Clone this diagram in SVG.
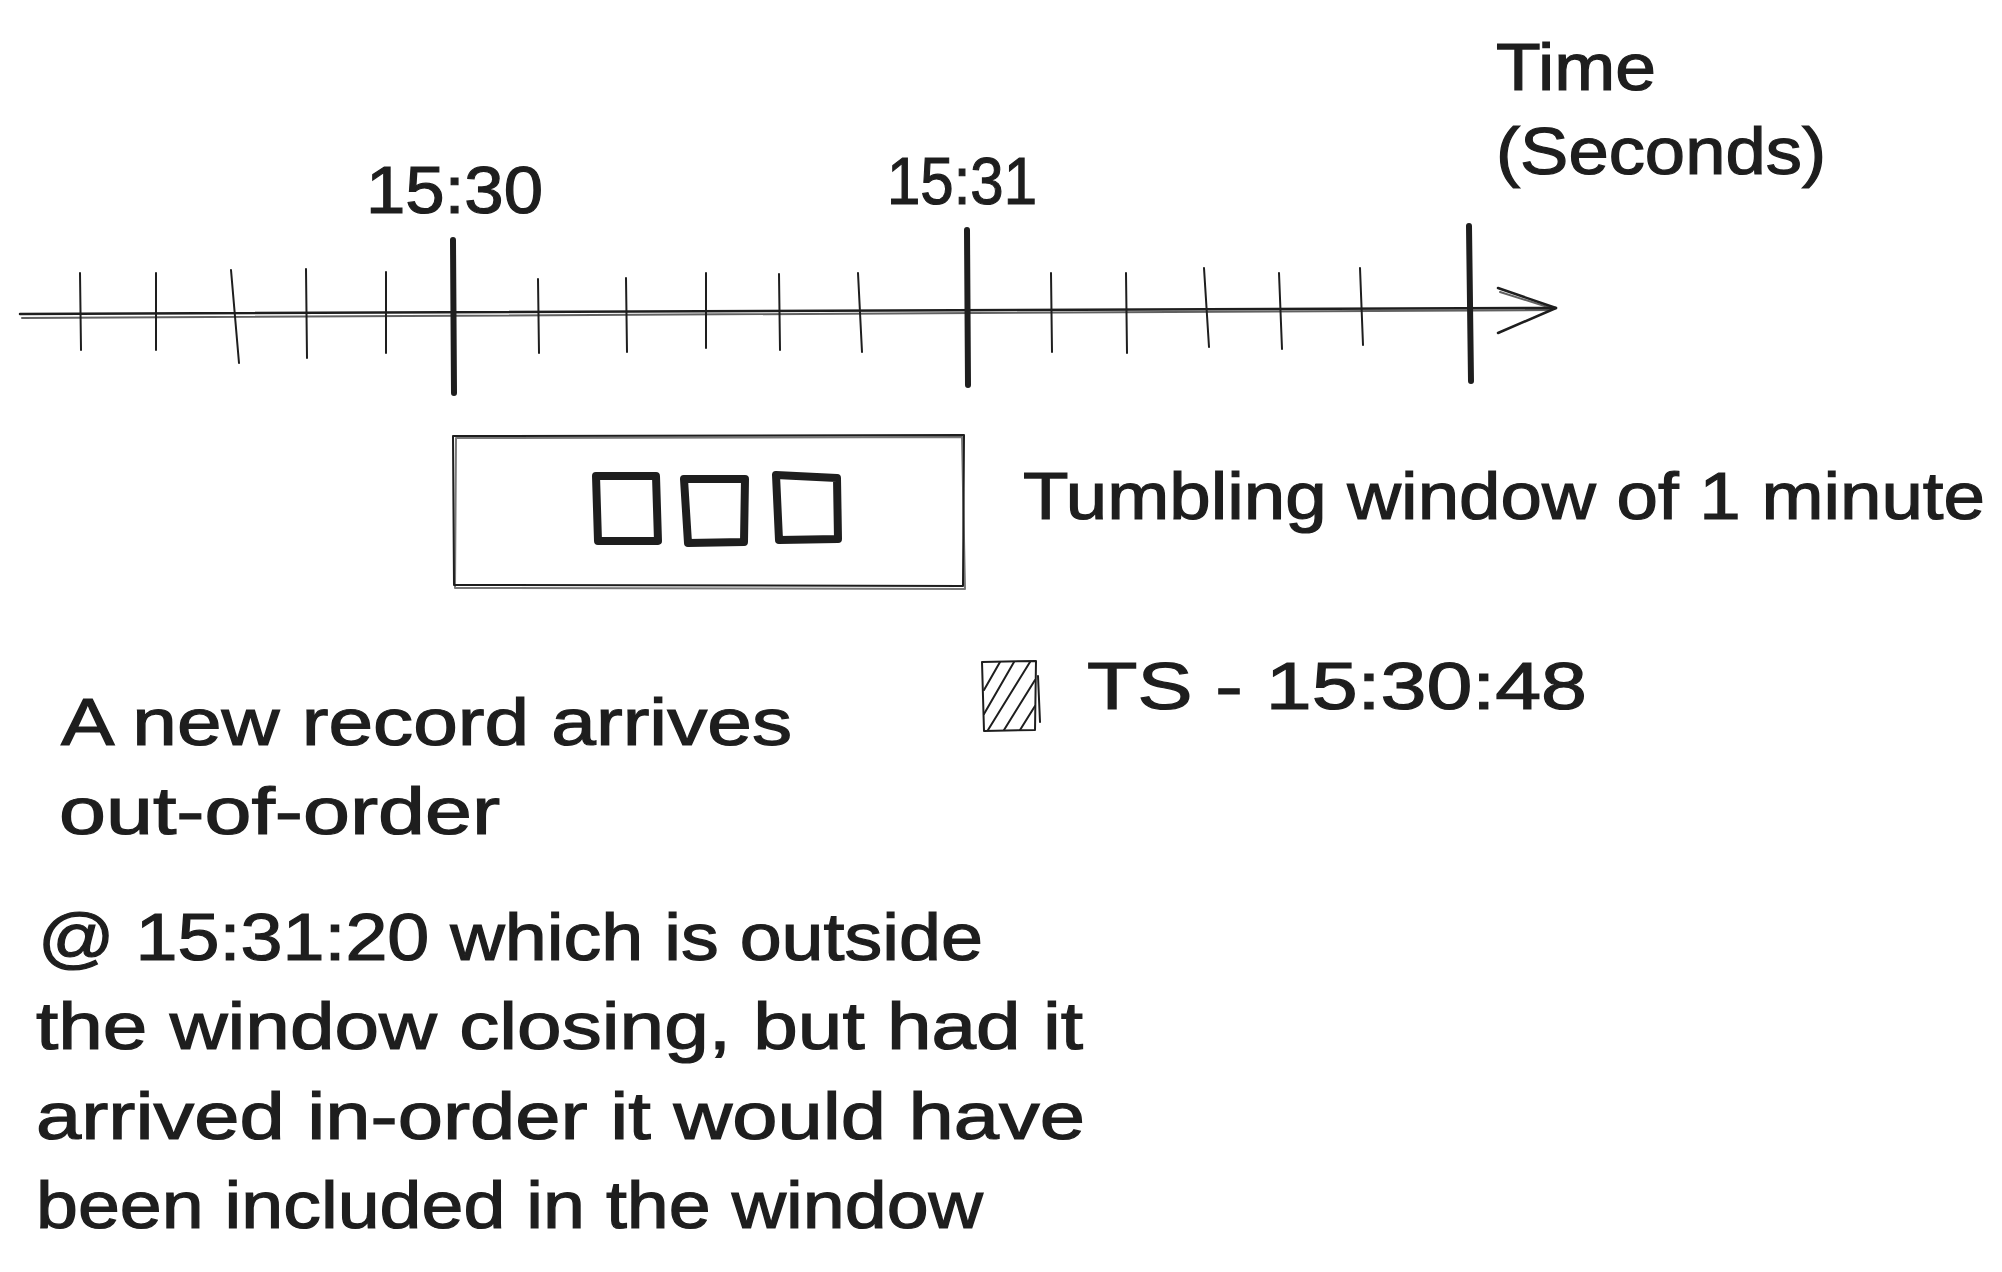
<svg xmlns="http://www.w3.org/2000/svg" width="2002" height="1272" viewBox="0 0 2002 1272">
<style>
  .ln{stroke:#1e1e1e;fill:none;stroke-linecap:round;stroke-linejoin:round}
  .thin{stroke-width:2}
  .axis{stroke-width:2.5}
  .bar{stroke-width:6}
  .sq{stroke-width:8}
  .t{font-family:"Liberation Sans",Arial,sans-serif;fill:#1e1e1e;stroke:#1e1e1e;stroke-width:1.2;font-size:66px}
</style>
<rect width="2002" height="1272" fill="#ffffff"/>
<g id="connectors">
  <path class="ln axis" d="M20 314 L1556 308"/>
  <path class="ln thin" d="M22 318 L1550 310" opacity="0.7"/>
  <path class="ln axis" d="M1498 288 L1556 308 L1498 333"/>
  <path class="ln thin" d="M1500 292 L1554 309" opacity="0.7"/>
</g>
<g id="ticks">
  <path class="ln thin" d="M80 273 L81 350"/>
  <path class="ln thin" d="M156 273 L156 350"/>
  <path class="ln thin" d="M231 270 L239 363"/>
  <path class="ln thin" d="M306 269 L307 358"/>
  <path class="ln thin" d="M386 272 L386 353"/>
  <path class="ln thin" d="M538 279 L539 353"/>
  <path class="ln thin" d="M626 278 L627 352"/>
  <path class="ln thin" d="M706 273 L706 348"/>
  <path class="ln thin" d="M779 274 L780 350"/>
  <path class="ln thin" d="M858 273 L862 352"/>
  <path class="ln thin" d="M1051 273 L1052 352"/>
  <path class="ln thin" d="M1126 273 L1127 353"/>
  <path class="ln thin" d="M1204 268 L1209 347"/>
  <path class="ln thin" d="M1279 273 L1282 349"/>
  <path class="ln thin" d="M1360 268 L1363 345"/>
  <path class="ln bar" d="M453 240 L454 393"/>
  <path class="ln bar" d="M967 230 L968 385"/>
  <path class="ln bar" d="M1469 226 L1471 381"/>
</g>
<g id="label-1530"><text class="t" x="366" y="213" textLength="177" lengthAdjust="spacingAndGlyphs">15:30</text></g>
<g id="label-1531"><text class="t" x="887" y="204" textLength="150" lengthAdjust="spacingAndGlyphs">15:31</text></g>
<g id="label-time">
  <text class="t" x="1496" y="90" textLength="160" lengthAdjust="spacingAndGlyphs">Time</text>
  <text class="t" x="1496" y="174" textLength="330" lengthAdjust="spacingAndGlyphs">(Seconds)</text>
</g>
<g id="window">
  <path class="ln thin" d="M453 436 L964 435 L963 586 L454 585 Z"/>
  <path class="ln thin" d="M456 438 L962 437 L965 589 L455 588 Z" opacity="0.6"/>
  <path class="ln sq" d="M596 476 L656 476 L658 541 L598 541 Z"/>
  <path class="ln sq" d="M684 479 L745 479 L744 542 L688 543 Z"/>
  <path class="ln sq" d="M776 475 L837 478 L838 539 L779 540 Z"/>
</g>
<g id="label-window"><text class="t" x="1023" y="519" textLength="962" lengthAdjust="spacingAndGlyphs">Tumbling window of 1 minute</text></g>
<g id="legend">
  <path class="ln thin" d="M982 662 L1036 661 L1035 730 L984 731 Z"/>
  <path class="ln thin" d="M1038 676 L1040 722"/>
  <path class="ln thin" d="M984 690 L1000 662 M984 714 L1014 662 M988 730 L1030 662 M1004 730 L1035 680 M1020 730 L1035 706"/>
  <text class="t" x="1087" y="709" textLength="500" lengthAdjust="spacingAndGlyphs">TS - 15:30:48</text>
</g>
<g id="note-1">
  <text class="t" x="61" y="745" textLength="731" lengthAdjust="spacingAndGlyphs">A new record arrives</text>
  <text class="t" x="59" y="834" textLength="441" lengthAdjust="spacingAndGlyphs">out-of-order</text>
</g>
<g id="note-2">
  <text class="t" x="38" y="960" textLength="945" lengthAdjust="spacingAndGlyphs">@ 15:31:20 which is outside</text>
  <text class="t" x="36" y="1049" textLength="1047" lengthAdjust="spacingAndGlyphs">the window closing, but had it</text>
  <text class="t" x="36" y="1139" textLength="1049" lengthAdjust="spacingAndGlyphs">arrived in-order it would have</text>
  <text class="t" x="36" y="1228" textLength="947" lengthAdjust="spacingAndGlyphs">been included in the window</text>
</g>
</svg>
